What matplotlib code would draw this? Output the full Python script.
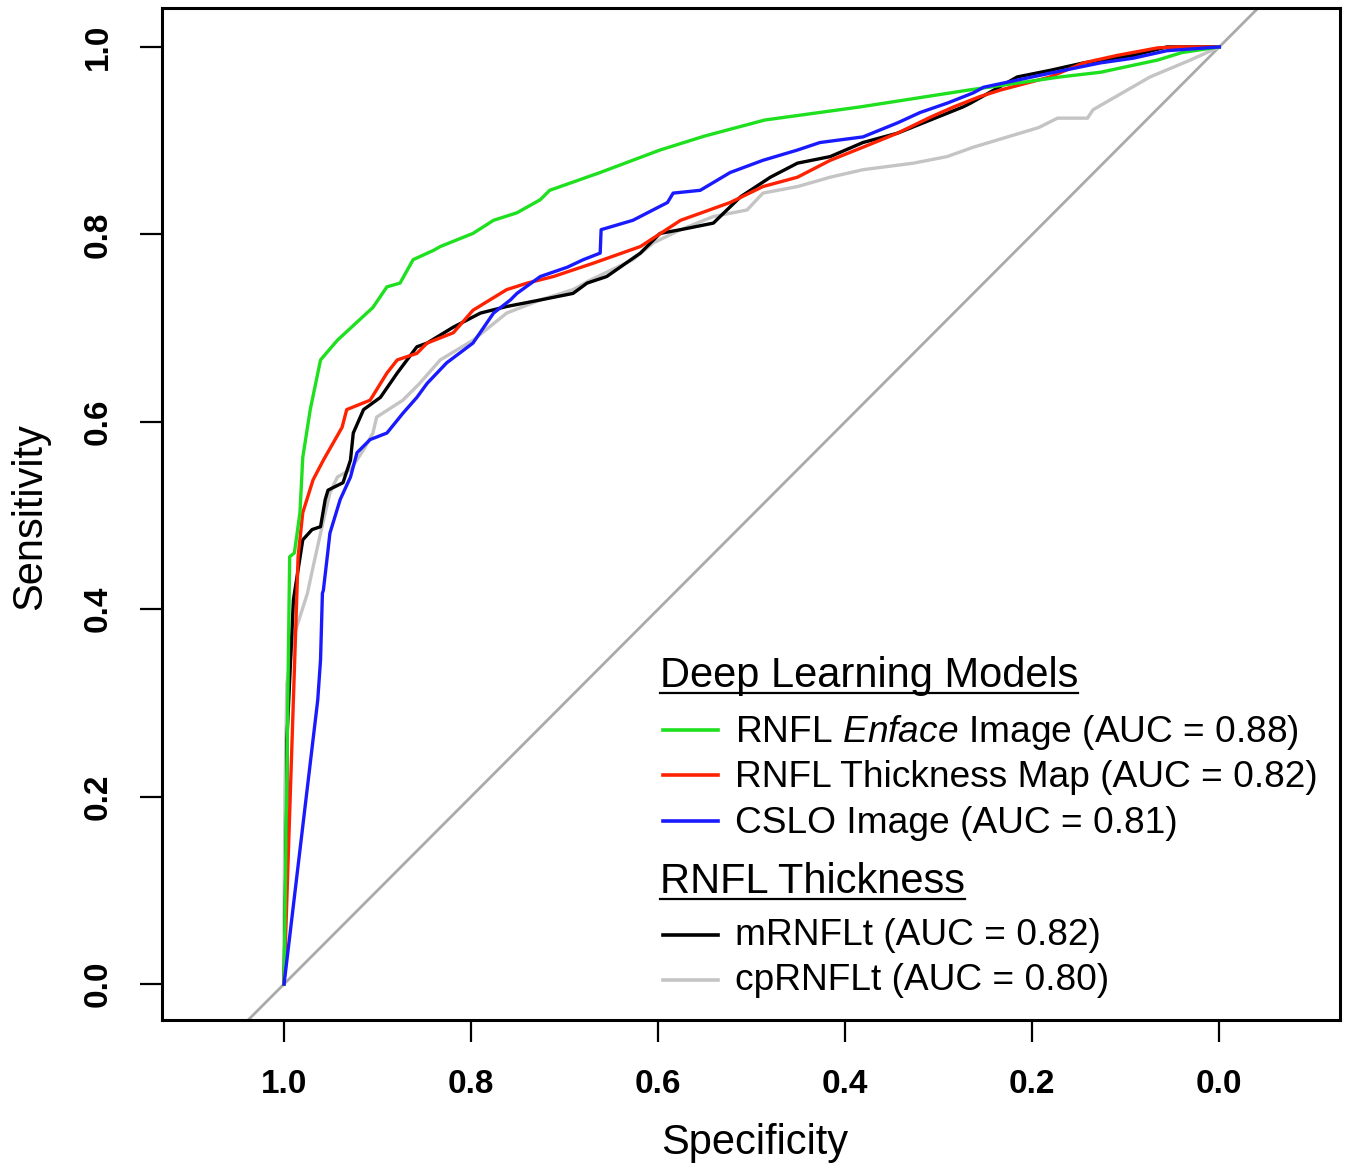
import matplotlib
matplotlib.use("Agg")
import matplotlib.pyplot as plt
from matplotlib.lines import Line2D

plt.rcParams['font.family'] = ['Liberation Sans', 'DejaVu Sans']
plt.rcParams['mathtext.fontset'] = 'custom'
plt.rcParams['mathtext.rm'] = 'Liberation Sans'
plt.rcParams['mathtext.it'] = 'Liberation Sans:italic'

# ROC curves (specificity, sensitivity)
green_spec = [1.0, 0.994, 0.989, 0.983, 0.980, 0.972, 0.961, 0.943, 0.905, 0.890,
              0.876, 0.862, 0.840, 0.833, 0.798, 0.776, 0.751, 0.726, 0.716, 0.662,
              0.598, 0.55, 0.486, 0.384, 0.268, 0.17, 0.127, 0.066, 0.04, 0.0]
green_sens = [0.0, 0.456, 0.46, 0.503, 0.562, 0.613, 0.666, 0.687, 0.722, 0.744,
              0.748, 0.773, 0.783, 0.787, 0.801, 0.815, 0.823, 0.837, 0.847, 0.866,
              0.89, 0.905, 0.922, 0.936, 0.954, 0.968, 0.973, 0.986, 0.994, 1.0]

red_spec = [1.0, 0.985, 0.98, 0.969, 0.958, 0.938, 0.933, 0.908, 0.89, 0.879,
            0.858, 0.847, 0.819, 0.798, 0.762, 0.74, 0.712, 0.67, 0.619, 0.576,
            0.523, 0.488, 0.451, 0.416, 0.381, 0.344, 0.309, 0.284, 0.256, 0.234,
            0.181, 0.145, 0.109, 0.066, 0.045, 0.0]
red_sens = [0.0, 0.456, 0.503, 0.538, 0.559, 0.594, 0.613, 0.623, 0.652, 0.666,
            0.673, 0.684, 0.695, 0.719, 0.741, 0.748, 0.755, 0.769, 0.787, 0.815,
            0.834, 0.851, 0.861, 0.879, 0.893, 0.908, 0.925, 0.936, 0.947, 0.954,
            0.968, 0.983, 0.991, 0.999, 1.0, 1.0]

blue_spec = [1.0, 0.964, 0.961, 0.959, 0.958, 0.953, 0.951, 0.94, 0.929, 0.922,
             0.908, 0.89, 0.873, 0.858, 0.847, 0.826, 0.798, 0.776, 0.758, 0.751,
             0.726, 0.697, 0.68, 0.662, 0.661, 0.627, 0.59, 0.584, 0.555, 0.523,
             0.488, 0.451, 0.427, 0.381, 0.344, 0.32, 0.291, 0.263, 0.252, 0.181,
             0.127, 0.092, 0.056, 0.0]
blue_sens = [0.0, 0.303, 0.346, 0.417, 0.42, 0.463, 0.481, 0.517, 0.541, 0.567,
             0.581, 0.588, 0.609, 0.626, 0.641, 0.663, 0.684, 0.716, 0.73, 0.737,
             0.755, 0.765, 0.773, 0.78, 0.805, 0.815, 0.834, 0.844, 0.847, 0.866,
             0.879, 0.89, 0.898, 0.904, 0.919, 0.93, 0.94, 0.951, 0.957, 0.972,
             0.983, 0.988, 0.996, 1.0]

black_spec = [1.0, 0.997, 0.997, 0.99, 0.98, 0.97, 0.961, 0.956, 0.953, 0.937,
              0.929, 0.926, 0.915, 0.897, 0.879, 0.858, 0.847, 0.819, 0.79, 0.762,
              0.726, 0.691, 0.676, 0.655, 0.619, 0.598, 0.576, 0.541, 0.512, 0.48,
              0.451, 0.416, 0.381, 0.344, 0.309, 0.274, 0.266, 0.216, 0.181, 0.145,
              0.092, 0.056, 0.0]
black_sens = [0.0, 0.2, 0.26, 0.41, 0.474, 0.485, 0.488, 0.517, 0.527, 0.535,
              0.559, 0.588, 0.613, 0.626, 0.652, 0.68, 0.684, 0.701, 0.716, 0.723,
              0.73, 0.737, 0.748, 0.755, 0.78, 0.801, 0.805, 0.812, 0.84, 0.861,
              0.876, 0.883, 0.898, 0.908, 0.922, 0.936, 0.94, 0.968, 0.975, 0.983,
              0.991, 1.0, 1.0]

gray_spec = [1.0, 1.0, 0.999, 0.997, 0.99, 0.983, 0.975, 0.969, 0.961, 0.951,
             0.943, 0.929, 0.915, 0.905, 0.901, 0.873, 0.855, 0.833, 0.798, 0.762,
             0.726, 0.691, 0.673, 0.627, 0.605, 0.576, 0.541, 0.505, 0.488, 0.451,
             0.416, 0.381, 0.327, 0.291, 0.263, 0.193, 0.173, 0.141, 0.135, 0.074,
             0.031, 0.0]
gray_sens = [0.0, 0.07, 0.207, 0.321, 0.37, 0.392, 0.417, 0.445, 0.481, 0.524,
             0.541, 0.549, 0.57, 0.588, 0.605, 0.623, 0.641, 0.666, 0.687, 0.716,
             0.73, 0.741, 0.751, 0.773, 0.791, 0.805, 0.819, 0.826, 0.844, 0.851,
             0.861, 0.869, 0.876, 0.883, 0.893, 0.914, 0.924, 0.924, 0.933, 0.968,
             0.986, 1.0]

ticks = [1.0, 0.8, 0.6, 0.4, 0.2, 0.0]
tick_labels = ["1.0", "0.8", "0.6", "0.4", "0.2", "0.0"]

group1 = "Deep Learning Models"
group1_labels = [r"RNFL $\mathit{Enface}$ Image (AUC = 0.88)",
                 "RNFL Thickness Map (AUC = 0.82)",
                 "CSLO Image (AUC = 0.81)"]
group2 = "RNFL Thickness"
group2_labels = ["mRNFLt (AUC = 0.82)", "cpRNFLt (AUC = 0.80)"]

c_green = "#1ee01e"
c_red = "#ff2200"
c_blue = "#1a1aff"
c_black = "#000000"
c_gray = "#c4c4c4"

fig = plt.figure(figsize=(13.49, 11.7), dpi=100)
ax = fig.add_axes([0.1201, 0.1282, 0.8732, 0.865])

ax.axline((1.0, 0.0), (0.0, 1.0), color="#aaaaaa", lw=2.0, zorder=1)

lw = 2.4
ax.plot(gray_spec, gray_sens, color=c_gray, lw=lw, zorder=2)
ax.plot(black_spec, black_sens, color=c_black, lw=lw, zorder=3)
ax.plot(red_spec, red_sens, color=c_red, lw=lw, zorder=4)
ax.plot(green_spec, green_sens, color=c_green, lw=lw, zorder=5)
ax.plot(blue_spec, blue_sens, color=c_blue, lw=lw, zorder=6)

ax.set_xlim(1.1305, -0.129)
ax.set_ylim(-0.0384, 1.0416)
ax.set_xticks(ticks)
ax.set_xticklabels(tick_labels, fontweight="bold")
ax.set_yticks(ticks)
ax.set_yticklabels(tick_labels, rotation=90, va="center", fontweight="bold")
ax.tick_params(length=16, width=1.6, labelsize=24, pad=19)
for s in ax.spines.values():
    s.set_linewidth(2.2)

ax.set_xlabel("Specificity", fontsize=30)
ax.set_ylabel("Sensitivity", fontsize=30)
ax.xaxis.set_label_coords(0.5034, -0.1215)
ax.yaxis.set_label_coords(-0.112, 0.497)
ax.xaxis.label.set_va("center")
ax.yaxis.label.set_va("center")

# hand-built legend with underlined group headers
tr = ax.transAxes
x_line0, x_line1, x_text = 0.4253, 0.472, 0.4864
h1 = ax.text(0.4228, 0.329, group1, fontsize=30, transform=tr, va="baseline")
base1 = [0.2747, 0.2303, 0.1848]
col1 = [c_green, c_red, c_blue]
for lab, b, c in zip(group1_labels, base1, col1):
    ax.add_line(Line2D([x_line0, x_line1], [b + 0.0117, b + 0.0117], color=c,
                       lw=2.6, transform=tr))
    ax.text(x_text, b, lab, fontsize=26.7, transform=tr, va="baseline")

h2 = ax.text(0.4228, 0.1255, group2, fontsize=30, transform=tr, va="baseline")
base2 = [0.0741, 0.0296]
col2 = [c_black, c_gray]
for lab, b, c in zip(group2_labels, base2, col2):
    ax.add_line(Line2D([x_line0, x_line1], [b + 0.0099, b + 0.0099], color=c,
                       lw=2.6, transform=tr))
    ax.text(x_text, b, lab, fontsize=26.7, transform=tr, va="baseline")

fig.canvas.draw()
r = fig.canvas.get_renderer()
for h, yb in [(h1, 0.329), (h2, 0.1255)]:
    bb = h.get_window_extent(renderer=r).transformed(tr.inverted())
    ax.add_line(Line2D([bb.x0, bb.x1], [yb - 0.006, yb - 0.006], color="black",
                       lw=1.6, transform=tr))

fig.savefig("out.png", dpi=100)
